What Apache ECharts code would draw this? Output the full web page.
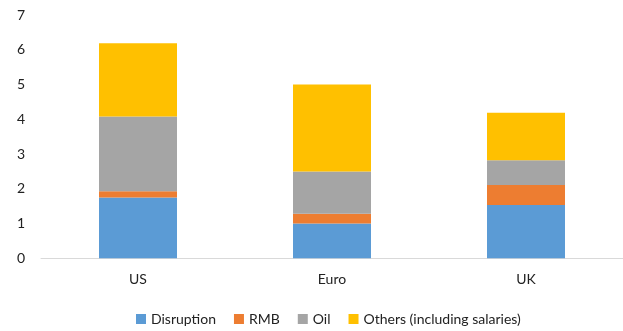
<!DOCTYPE html>
<html><head><meta charset="utf-8">
<script src="https://cdn.jsdelivr.net/npm/echarts@6/dist/echarts.min.js"></script>
<style>html,body{margin:0;padding:0;background:#fff}#c{width:623px;height:331px}</style>
</head><body><div id="c"></div>
<script>
const categories = ['US', 'Euro', 'UK'];
const disruption = [1.75, 1.0, 1.53];
const rmb = [0.18, 0.28, 0.58];
const oil = [2.15, 1.22, 0.71];
const others = [2.11, 2.5, 1.37];
const yTicks = [0, 1, 2, 3, 4, 5, 6, 7];

const font = 'Lato';
const chart = echarts.init(document.getElementById('c'), null, {renderer: 'canvas'});
const mk = (name, data, color) => ({
  name, type: 'bar', stack: 'a', data, barWidth: 78,
  itemStyle: {color}, emphasis: {disabled: true}
});
chart.setOption({
  animation: false,
  textStyle: {fontFamily: font},
  grid: {left: 41, top: 15, width: 586, height: 243.3, containLabel: false},
  xAxis: {
    type: 'category', data: categories,
    axisLine: {lineStyle: {color: '#d9d9d9', width: 1}},
    axisTick: {show: false},
    axisLabel: {color: '#222', fontSize: 14, fontFamily: font, margin: 14}
  },
  yAxis: {
    type: 'value', min: yTicks[0], max: yTicks[yTicks.length - 1], interval: 1,
    splitLine: {show: false},
    axisLine: {show: false}, axisTick: {show: false},
    axisLabel: {color: '#222', fontSize: 14, fontFamily: font, margin: 16,
      formatter: v => yTicks.includes(v) ? String(v) : ''}
  },
  legend: {
    top: 307, left: 131, itemWidth: 10, itemHeight: 10, itemGap: 18,
    icon: 'rect',
    textStyle: {color: '#222', fontSize: 14, fontFamily: font},
    data: ['Disruption', 'RMB', 'Oil', 'Others (including salaries)']
  },
  series: [
    mk('Disruption', disruption, '#5b9bd5'),
    mk('RMB', rmb, '#ed7d31'),
    mk('Oil', oil, '#a5a5a5'),
    mk('Others (including salaries)', others, '#ffc000')
  ]
});
</script></body></html>
